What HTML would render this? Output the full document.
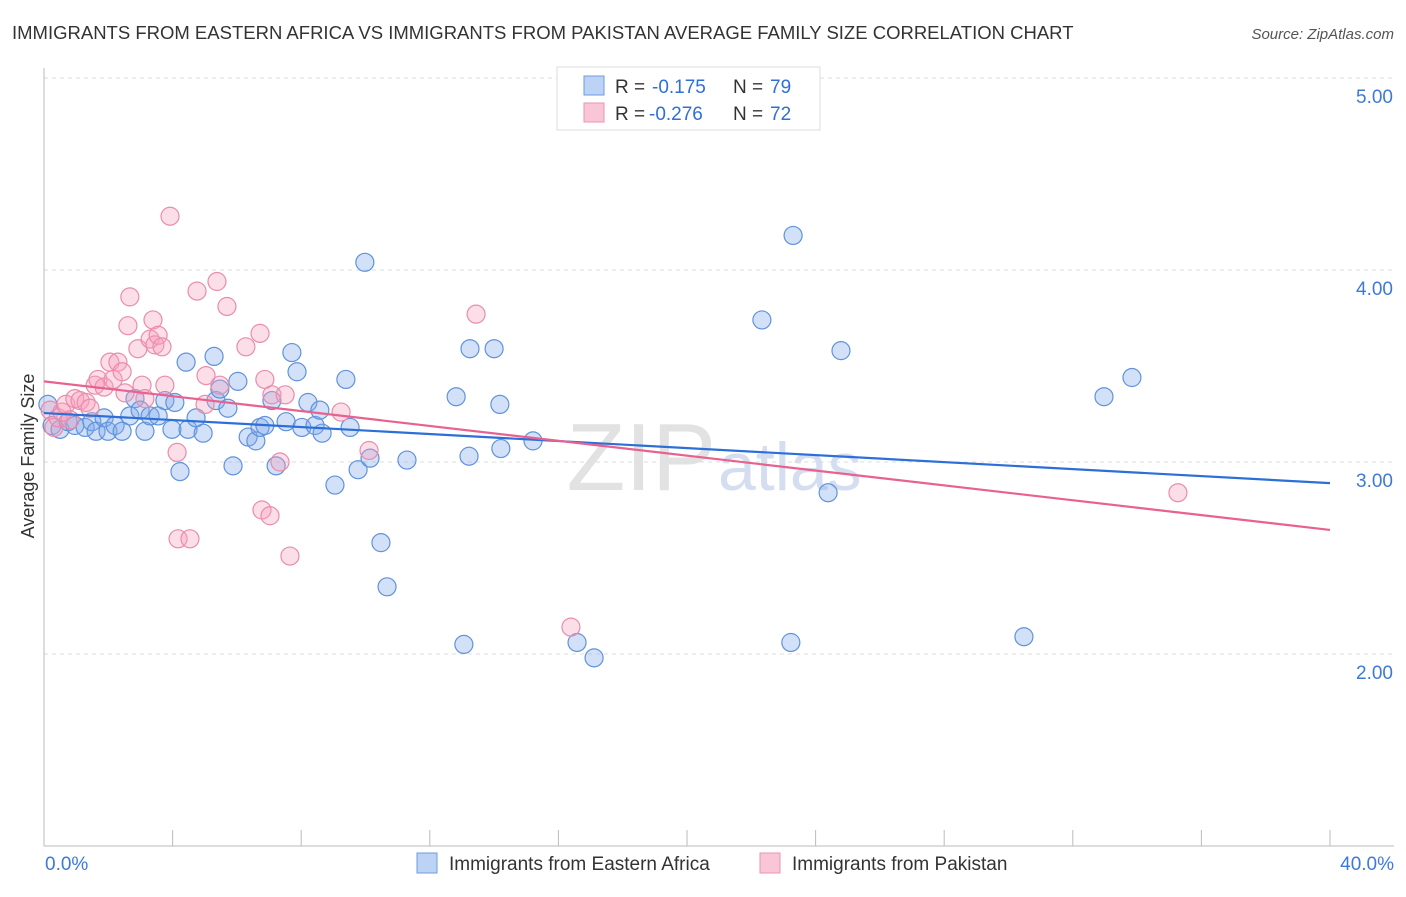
<!DOCTYPE html>
<html><head><meta charset="utf-8"><style>
body{margin:0;background:#fff;font-family:"Liberation Sans",sans-serif}
svg text{font-family:"Liberation Sans",sans-serif}
</style></head><body>
<svg width="1406" height="892">
<text x="12" y="39" font-size="18.5" fill="#333">IMMIGRANTS FROM EASTERN AFRICA VS IMMIGRANTS FROM PAKISTAN AVERAGE FAMILY SIZE CORRELATION CHART</text>
<text x="1394" y="39" font-size="15" fill="#555" text-anchor="end" font-style="italic">Source: ZipAtlas.com</text>
<text x="716" y="490" font-size="96" fill="#e2e2e2" text-anchor="end" font-family="Liberation Serif">ZIP</text>
<text x="718" y="490" font-size="68" fill="#d4def0">atlas</text>
<g id="grid"></g><g id="axes"></g><g id="pts"></g><g id="trend"></g>
<g>
<rect x="557" y="67" width="263" height="63" fill="#fff" stroke="#ddd"/>
<rect x="584" y="76" width="20" height="19" fill="#bcd3f5" stroke="#6f9be0"/>
<rect x="584" y="103" width="20" height="19" fill="#f9c6d6" stroke="#ec93b0"/>
<text x="615" y="93" font-size="19" fill="#333">R =</text>
<text x="652" y="93" font-size="19" fill="#2f6fd6">-0.175</text>
<text x="733" y="93" font-size="19" fill="#333">N =</text>
<text x="770" y="93" font-size="19" fill="#2f6fd6">79</text>
<text x="615" y="120" font-size="19" fill="#333">R =</text>
<text x="649" y="120" font-size="19" fill="#2f6fd6">-0.276</text>
<text x="733" y="120" font-size="19" fill="#333">N =</text>
<text x="770" y="120" font-size="19" fill="#2f6fd6">72</text>
</g>
<g>
<rect x="417" y="853" width="20" height="20" fill="#bcd3f5" stroke="#6f9be0"/>
<text x="449" y="870" font-size="19" fill="#333">Immigrants from Eastern Africa</text>
<rect x="760" y="853" width="20" height="20" fill="#f9c6d6" stroke="#ec93b0"/>
<text x="792" y="870" font-size="19" fill="#333">Immigrants from Pakistan</text>
</g>
<text transform="translate(34,456) rotate(-90)" font-size="18" fill="#333" text-anchor="middle">Average Family Size</text>
</svg>
<script>
const yTicks=[2,3,4,5];
const yTickLabels=["2.00","3.00","4.00","5.00"];
const xTickLabels=["0.0%","40.0%"];
const blueX=[0.12,0.25,0.5,0.75,0.96,1.28,1.49,1.62,1.87,1.99,2.21,2.43,2.67,2.83,2.99,3.14,3.30,3.55,3.76,3.98,4.07,4.23,4.42,4.48,4.73,4.95,5.29,5.35,5.47,5.72,5.88,6.03,6.35,6.59,6.72,6.87,7.09,7.22,7.53,7.71,7.87,8.02,8.21,8.43,8.58,8.65,9.05,9.39,9.52,9.77,9.98,10.14,10.48,10.67,11.29,12.82,13.06,13.22,13.25,14.0,14.18,14.21,15.21,16.58,17.11,22.33,23.23,23.3,24.39,24.79,30.48,32.97,33.84];
const blueY=[3.30,3.19,3.17,3.21,3.19,3.18,3.21,3.16,3.23,3.16,3.19,3.16,3.24,3.33,3.27,3.16,3.24,3.24,3.32,3.17,3.31,2.95,3.52,3.17,3.23,3.15,3.55,3.32,3.38,3.28,2.98,3.42,3.13,3.11,3.18,3.19,3.32,2.98,3.21,3.57,3.47,3.18,3.31,3.19,3.27,3.15,2.88,3.43,3.18,2.96,4.04,3.02,2.58,2.35,3.01,3.34,2.05,3.03,3.59,3.59,3.30,3.07,3.11,2.06,1.98,3.74,2.06,4.18,2.84,3.58,2.09,3.34,3.44];
const pinkX=[0.19,0.31,0.44,0.56,0.68,0.81,0.96,1.12,1.31,1.43,1.59,1.68,1.87,2.05,2.15,2.30,2.43,2.52,2.61,2.67,2.92,3.05,3.14,3.30,3.39,3.45,3.55,3.67,3.76,3.92,4.14,4.17,4.54,4.76,5.01,5.04,5.38,5.47,5.69,6.28,6.72,6.78,6.87,7.03,7.09,7.34,7.5,7.65,9.24,10.11,13.44,16.39,35.27];
const pinkY=[3.27,3.18,3.23,3.26,3.30,3.22,3.33,3.32,3.31,3.28,3.40,3.43,3.39,3.52,3.43,3.52,3.47,3.36,3.71,3.86,3.59,3.40,3.33,3.64,3.74,3.61,3.66,3.60,3.40,4.28,3.05,2.60,2.60,3.89,3.30,3.45,3.94,3.40,3.81,3.60,3.67,2.75,3.43,2.72,3.35,3.00,3.35,2.51,3.26,3.06,3.77,2.14,2.84];
const blueTrend=[3.255,2.89];
const pinkTrend=[3.42,2.646];
const NS="http://www.w3.org/2000/svg";
const X=v=>44+v*(1330-44)/40, Y=v=>846-(v-1)*192;
function mk(t,a,p){const e=document.createElementNS(NS,t);for(const k in a)e.setAttribute(k,a[k]);document.getElementById(p).appendChild(e);return e;}
yTicks.forEach((t,i)=>{
 const l=mk('line',{x1:44,x2:1394,y1:Y(t),y2:Y(t),stroke:'#ddd','stroke-dasharray':'4,4'},'grid');
 
 
 const tx=mk('text',{x:1393,y:Y(t)+25,'font-size':19,fill:'#3d7ad8','text-anchor':'end'},'grid');
 tx.textContent=yTickLabels[i];
 
 
});
mk('line',{x1:44,x2:44,y1:68,y2:846,stroke:'#bbb'},'axes');
mk('line',{x1:44,x2:1394,y1:846,y2:846,stroke:'#bbb'},'axes');
for(let i=0;i<=10;i++){const x=X(i*4);mk('line',{x1:x,x2:x,y1:830,y2:846,stroke:'#bbb'},'axes');}
[[0,'start',45],[40,'end',1394]].forEach((d,i)=>{const t=mk('text',{x:d[2],y:870,'font-size':19,fill:'#3d7ad8','text-anchor':d[1]},'axes');t.textContent=xTickLabels[i];
 
 });
function pts(xs,ys,fill,stroke,name){xs.forEach((x,i)=>{const c=mk('circle',{cx:X(x),cy:Y(ys[i]),r:9,fill:fill,stroke:stroke,'stroke-width':1.2},'pts');
 
 });}
pts(blueX,blueY,'rgba(130,170,235,0.35)','#5f93dc','point-eastern-africa');
pts(pinkX,pinkY,'rgba(245,160,190,0.35)','#ea8cab','point-pakistan');
const b=mk('line',{x1:X(0),y1:Y(blueTrend[0]),x2:X(40),y2:Y(blueTrend[1]),stroke:'#2c6fd8','stroke-width':2.2},'trend');


const p=mk('line',{x1:X(0),y1:Y(pinkTrend[0]),x2:X(40),y2:Y(pinkTrend[1]),stroke:'#e8618f','stroke-width':2.2},'trend');


</script>
</body></html>
